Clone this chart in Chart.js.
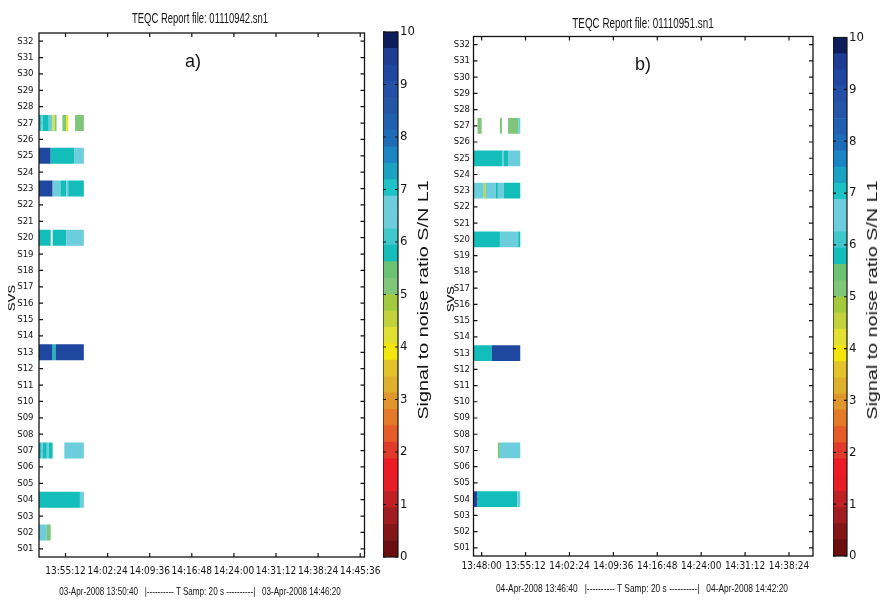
<!DOCTYPE html>
<html>
<head>
<meta charset="utf-8">
<script src="https://cdn.jsdelivr.net/npm/chart.js@4.4.0/dist/chart.umd.min.js"></script>
<style>
  html, body { margin: 0; padding: 0; background: #fff; }
  #wrap { position: relative; width: 880px; height: 600px; overflow: hidden; background: #fff; }
  canvas { position: absolute; top: 0; }
  .t { position: absolute; white-space: pre; color: #151515; line-height: 1;
       font-family: 'Liberation Sans', Arial, sans-serif; transform-origin: center center; }
</style>
</head>
<body>
<div id="wrap">
  <canvas id="plotA" width="440" height="600" style="left:0px"></canvas>
  <canvas id="cbarA" width="40" height="600" style="left:383px"></canvas>
  <canvas id="plotB" width="440" height="600" style="left:440px"></canvas>
  <canvas id="cbarB" width="40" height="600" style="left:833px"></canvas>

  <div class="t" style="left:200px;top:18px;font-size:12px;transform:translate(-50%,-50%) scale(0.79,1.25)">TEQC Report file: 01110942.sn1</div>
  <div class="t" style="left:643px;top:23px;font-size:12px;transform:translate(-50%,-50%) scale(0.82,1.25)">TEQC Report file: 01110951.sn1</div>

  <div class="t" style="left:193px;top:61px;font-size:18px;transform:translate(-50%,-50%)">a)</div>
  <div class="t" style="left:643px;top:64px;font-size:18px;transform:translate(-50%,-50%)">b)</div>

  <div class="t" style="left:11px;top:298px;font-size:12px;transform:translate(-50%,-50%) rotate(-90deg) scale(1.45,1)">svs</div>
  <div class="t" style="left:450px;top:299px;font-size:12px;transform:translate(-50%,-50%) rotate(-90deg) scale(1.45,1)">svs</div>

  <div class="t" style="left:423px;top:300px;font-size:14px;transform:translate(-50%,-50%) rotate(-90deg) scale(1.41,1)">Signal to noise ratio S/N L1</div>
  <div class="t" style="left:872px;top:300px;font-size:14px;transform:translate(-50%,-50%) rotate(-90deg) scale(1.41,1)">Signal to noise ratio S/N L1</div>

  <div class="t" style="left:200px;top:592px;font-size:10px;transform:translate(-50%,-50%) scale(0.81,1.15)">03-Apr-2008 13:50:40   |---------- T Samp: 20 s ----------|   03-Apr-2008 14:46:20</div>
  <div class="t" style="left:642px;top:589px;font-size:10px;transform:translate(-50%,-50%) scale(0.84,1.15)">04-Apr-2008 13:46:40   |---------- T Samp: 20 s ----------|   04-Apr-2008 14:42:20</div>
</div>

<script>
// Satellite rows, top to bottom
const svs = ['S32','S31','S30','S29','S28','S27','S26','S25','S24','S23','S22','S21','S20','S19','S18','S17',
             'S16','S15','S14','S13','S12','S11','S10','S09','S08','S07','S06','S05','S04','S03','S02','S01'];

// Time window of each session
const rangeA = ['13:50:40', '14:46:20'];
const rangeB = ['13:46:40', '14:42:20'];

// Time-axis tick labels
const ticksA = ['13:55:12','14:02:24','14:09:36','14:16:48','14:24:00','14:31:12','14:38:24','14:45:36'];
const ticksB = ['13:48:00','13:55:12','14:02:24','14:09:36','14:16:48','14:24:00','14:31:12','14:38:24'];

// Tracking segments: [satellite, start, end, S/N L1]
const segA = [
  ['S27','13:50:40','13:51:00',5.8], ['S27','13:51:00','13:51:20',6.5], ['S27','13:51:20','13:52:20',5.8],
  ['S27','13:52:20','13:53:00',6.5], ['S27','13:53:00','13:53:20',4.0], ['S27','13:53:20','13:53:40',5.2],
  ['S27','13:54:40','13:55:20',5.2], ['S27','13:55:20','13:55:40',4.0], ['S27','13:56:50','13:58:20',5.2],
  ['S25','13:50:40','13:52:40',9.2], ['S25','13:52:40','13:56:40',5.8], ['S25','13:56:40','13:58:20',6.5],
  ['S23','13:50:40','13:53:00',9.2], ['S23','13:53:00','13:54:20',6.5], ['S23','13:54:20','13:55:20',5.8],
  ['S23','13:55:20','13:55:40',6.5], ['S23','13:55:40','13:58:20',5.8],
  ['S20','13:50:40','13:52:40',5.8], ['S20','13:53:00','13:55:20',5.8], ['S20','13:55:20','13:58:20',6.5],
  ['S13','13:50:40','13:53:00',9.2], ['S13','13:53:00','13:53:30',5.8], ['S13','13:53:30','13:58:20',9.2],
  ['S07','13:50:40','13:51:00',5.8], ['S07','13:51:00','13:51:20',6.5], ['S07','13:51:20','13:52:00',5.8],
  ['S07','13:52:00','13:52:20',6.5], ['S07','13:52:20','13:53:00',5.8], ['S07','13:55:00','13:58:20',6.5],
  ['S04','13:50:40','13:57:40',5.8], ['S04','13:57:40','13:58:20',6.5],
  ['S02','13:50:40','13:52:00',6.5], ['S02','13:52:00','13:52:40',5.2]
];
const segB = [
  ['S27','13:47:20','13:48:00',5.2], ['S27','13:51:00','13:51:20',5.2], ['S27','13:52:20','13:54:00',5.2],
  ['S27','13:54:00','13:54:20',6.5],
  ['S25','13:46:40','13:51:20',5.8], ['S25','13:51:20','13:51:40',6.5], ['S25','13:51:40','13:52:20',5.8],
  ['S25','13:52:20','13:54:20',6.5],
  ['S23','13:46:40','13:48:20',6.5], ['S23','13:48:20','13:48:40',4.5], ['S23','13:48:40','13:50:20',6.5],
  ['S23','13:50:20','13:50:40',5.8], ['S23','13:50:40','13:51:40',6.5], ['S23','13:51:40','13:54:20',5.8],
  ['S20','13:46:40','13:51:00',5.8], ['S20','13:51:00','13:54:00',6.5], ['S20','13:54:00','13:54:20',5.8],
  ['S13','13:46:40','13:49:40',5.8], ['S13','13:49:40','13:54:20',9.2],
  ['S07','13:50:40','13:51:00',5.2], ['S07','13:51:00','13:54:20',6.5],
  ['S04','13:46:40','13:47:20',9.2], ['S04','13:47:20','13:53:50',5.8], ['S04','13:53:50','13:54:20',6.5]
];

// 32-step S/N colour map, 0 (bottom) to 10 (top)
const snrMax = 10;
const snrColors = [
  '#6a0e10','#841618','#a01c20','#bf2026','#e81c24','#ec1c24','#e03a2a','#e55c28',
  '#e47a28','#e0962a','#deb02c','#e2c42a','#f2e60c','#e2e030','#c2d23a','#a2ca3c',
  '#7fc57a','#6ac272','#13bdb9','#3ec8cc','#6ccddc','#6ccddc','#1cc2c6','#1aa2c2',
  '#1a84c4','#1c6cb8','#2060b0','#2456a8','#2350a6','#1f47a0','#1e3c94','#0e1c5c'
];

const FONT = "'Liberation Sans Narrow', 'DejaVu Sans Condensed', 'Liberation Sans', Arial, sans-serif";
const INK = '#151515';

function toSec(s) {
  const p = s.split(':').map(Number);
  return p[0] * 3600 + p[1] * 60 + p[2];
}
function snrColor(v) {
  const i = Math.max(0, Math.min(snrColors.length - 1, Math.floor(v / snrMax * snrColors.length)));
  return snrColors[i];
}

// Short inward tick marks on all four sides (under the bars), then the box around the plot area
const framePlugin = {
  id: 'frame',
  beforeDatasetsDraw(chart, args, opts) {
    const { ctx, chartArea: a } = chart;
    const tl = opts.tick || 4;
    const h = chart.scales.x;
    const v = chart.scales.y;
    ctx.save();
    ctx.strokeStyle = INK;
    ctx.lineWidth = 1.2;
    ctx.beginPath();
    if (opts.hTicks !== false) {
      h.ticks.forEach((t, i) => {
        const x = h.getPixelForTick(i);
        ctx.moveTo(x, a.bottom); ctx.lineTo(x, a.bottom - tl);
        ctx.moveTo(x, a.top); ctx.lineTo(x, a.top + tl);
      });
    }
    if (!opts.vOnTop) {
      v.ticks.forEach((t, i) => {
        const y = v.getPixelForTick(i);
        ctx.moveTo(a.left, y); ctx.lineTo(a.left + tl, y);
        ctx.moveTo(a.right, y); ctx.lineTo(a.right - tl, y);
      });
    }
    ctx.stroke();
    ctx.restore();
  },
  afterDatasetsDraw(chart, args, opts) {
    const { ctx, chartArea: a } = chart;
    const tl = opts.tick || 4;
    const v = chart.scales.y;
    ctx.save();
    ctx.strokeStyle = INK;
    ctx.lineWidth = opts.lineWidth || 1.2;
    ctx.strokeRect(a.left, a.top, a.right - a.left, a.bottom - a.top);
    if (opts.vOnTop) {
      ctx.beginPath();
      v.ticks.forEach(t => {
        const y = v.getPixelForValue(t.value);
        ctx.moveTo(a.left, y); ctx.lineTo(a.left + tl, y);
        ctx.moveTo(a.right, y); ctx.lineTo(a.right - tl, y);
      });
      ctx.stroke();
    }
    ctx.restore();
  }
};

function plotConfig(segs, range, tickLabels, box) {
  return {
    type: 'bar',
    data: {
      labels: svs,
      datasets: [{
        data: segs.map(s => ({ y: s[0], x: [toSec(s[1]), toSec(s[2])], snr: s[3] })),
        backgroundColor: c => (c.raw ? snrColor(c.raw.snr) : '#000'),
        borderWidth: 0,
        barPercentage: 0.97,
        categoryPercentage: 1
      }]
    },
    options: {
      indexAxis: 'y',
      responsive: false,
      animation: false,
      events: [],
      layout: { padding: { left: 0, top: box.top, right: box.right, bottom: 0 } },
      plugins: {
        legend: { display: false },
        tooltip: { enabled: false },
        frame: { tick: 4, lineWidth: 1.3 }
      },
      scales: {
        x: {
          type: 'linear',
          min: toSec(range[0]),
          max: toSec(range[1]),
          afterBuildTicks: s => { s.ticks = tickLabels.map(t => ({ value: toSec(t) })); },
          afterFit: s => { s.height = box.xh; },
          ticks: {
            autoSkip: false, maxRotation: 0, padding: box.xpad,
            color: INK, font: { family: FONT, size: 10 },
            callback: (v, i) => tickLabels[i]
          },
          grid: { display: false, drawTicks: false },
          border: { display: false }
        },
        y: {
          type: 'category',
          offset: true,
          afterFit: s => { s.width = box.yw; },
          ticks: { autoSkip: false, padding: box.ypad, color: INK, font: { family: FONT, size: 9.5 } },
          grid: { display: false, drawTicks: false },
          border: { display: false }
        }
      }
    },
    plugins: [framePlugin]
  };
}

function cbarConfig(box) {
  const step = snrMax / snrColors.length;
  return {
    type: 'bar',
    data: {
      labels: [''],
      datasets: snrColors.map((c, i) => ({
        data: [[i * step, (i + 1) * step]],
        backgroundColor: c,
        borderWidth: 0,
        barPercentage: 1,
        categoryPercentage: 1,
        grouped: false
      }))
    },
    options: {
      responsive: false,
      animation: false,
      events: [],
      layout: { padding: { left: 0, top: box.top, right: 0, bottom: box.bottom } },
      plugins: {
        legend: { display: false },
        tooltip: { enabled: false },
        frame: { tick: 3, lineWidth: 1.2, hTicks: false, vOnTop: true }
      },
      scales: {
        x: { display: false },
        y: {
          position: 'right',
          min: 0, max: snrMax,
          afterFit: s => { s.width = box.yw; },
          ticks: { stepSize: 1, padding: 2, color: INK, font: { family: FONT, size: 13 } },
          grid: { display: false, drawTicks: false },
          border: { display: false }
        }
      }
    },
    plugins: [framePlugin]
  };
}

new Chart(document.getElementById('plotA'),
  plotConfig(segA, rangeA, ticksA, { top: 33, right: 75.5, xh: 43, yw: 39, xpad: 8, ypad: 5.5 }));
new Chart(document.getElementById('plotB'),
  plotConfig(segB, rangeB, ticksB, { top: 36.5, right: 67, xh: 44, yw: 33.5, xpad: 4, ypad: 3.5 }));
new Chart(document.getElementById('cbarA'), cbarConfig({ top: 32, bottom: 43, yw: 25 }));
new Chart(document.getElementById('cbarB'), cbarConfig({ top: 37.5, bottom: 44, yw: 26 }));
</script>
</body>
</html>
